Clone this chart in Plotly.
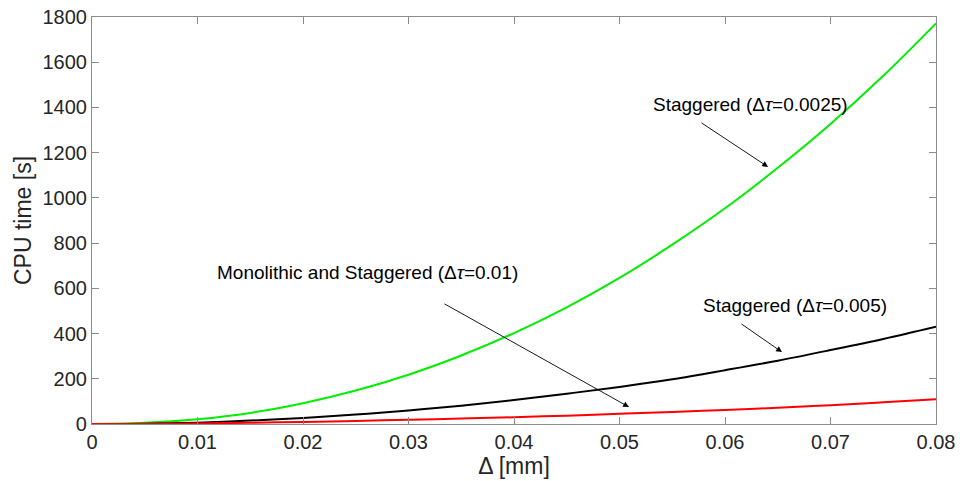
import plotly.graph_objects as go

# Mesh size Δ [mm]
delta = [0.0, 0.005, 0.01, 0.015, 0.02, 0.025, 0.03, 0.035, 0.04,
         0.045, 0.05, 0.055, 0.06, 0.065, 0.07, 0.075, 0.08]

# CPU time [s] for each scheme
cpu_stag_00025 = [0, 5, 21, 49, 92, 148, 218, 303, 402,
                  516, 646, 793, 954, 1133, 1327, 1540, 1772]
cpu_stag_0005 = [0, 1, 6, 15, 27, 42, 60, 81, 106,
                 134, 164, 198, 238, 280, 327, 376, 430]
cpu_mono_001 = [0, 0.5, 2.5, 5.5, 9, 13.5, 19, 24, 30,
                37, 45, 53, 62, 72, 83, 96, 110]

x_ticks = [0, 0.01, 0.02, 0.03, 0.04, 0.05, 0.06, 0.07, 0.08]
x_tick_text = ["0", "0.01", "0.02", "0.03", "0.04", "0.05", "0.06", "0.07", "0.08"]
y_ticks = [0, 200, 400, 600, 800, 1000, 1200, 1400, 1600, 1800]

FONT = "Liberation Sans, Arial, Helvetica, sans-serif"

fig = go.Figure()
fig.add_trace(go.Scatter(x=delta, y=cpu_stag_00025, mode="lines",
                         line=dict(color="#00ee00", width=2, shape="spline"),
                         showlegend=False))
fig.add_trace(go.Scatter(x=delta, y=cpu_stag_0005, mode="lines",
                         line=dict(color="#000000", width=2, shape="spline"),
                         showlegend=False))
fig.add_trace(go.Scatter(x=delta, y=cpu_mono_001, mode="lines",
                         line=dict(color="#ff0000", width=2, shape="spline"),
                         showlegend=False))

labels = [
    # (text, text x, text y, arrow tail x, tail y, head x, head y)
    ("Staggered (Δ<i>τ</i>=0.0025)", 0.06237, 1415, 0.05763, 1336, 0.06408, 1137),
    ("Monolithic and Staggered (Δ<i>τ</i>=0.01)", 0.02616, 668, 0.03327, 535, 0.0509, 75),
    ("Staggered (Δ<i>τ</i>=0.005)", 0.06664, 522, 0.06142, 447, 0.0654, 318),
]
for text, tx, ty, ax0, ay0, hx, hy in labels:
    fig.add_annotation(x=tx, y=ty, xref="x", yref="y", text=text, showarrow=False,
                       font=dict(family=FONT, size=19, color="#000000"))
    fig.add_annotation(x=hx, y=hy, ax=ax0, ay=ay0, xref="x", yref="y",
                       axref="x", ayref="y", text="", showarrow=True,
                       arrowhead=2, arrowsize=1.3, arrowwidth=0.9,
                       arrowcolor="#000000")

axis_common = dict(showline=True, linecolor="#8c8c8c", linewidth=1.2,
                   mirror="ticks", ticks="inside", ticklen=7,
                   tickcolor="#8c8c8c", showgrid=False, zeroline=False,
                   automargin=False,
                   tickfont=dict(family=FONT, size=20, color="#262626"))

fig.update_xaxes(range=[0, 0.08], tickvals=x_ticks, ticktext=x_tick_text,
                 title=dict(text="Δ [mm]", standoff=4,
                            font=dict(family=FONT, size=23, color="#262626")),
                 **axis_common)
fig.update_yaxes(range=[0, 1800], tickvals=y_ticks,
                 title=dict(text="CPU time [s]", standoff=4,
                            font=dict(family=FONT, size=23, color="#262626")),
                 **axis_common)

fig.update_layout(width=960, height=481,
                  margin=dict(l=92, r=24, t=17, b=57),
                  paper_bgcolor="white", plot_bgcolor="white",
                  font=dict(family=FONT))

fig.write_html("out.html")
